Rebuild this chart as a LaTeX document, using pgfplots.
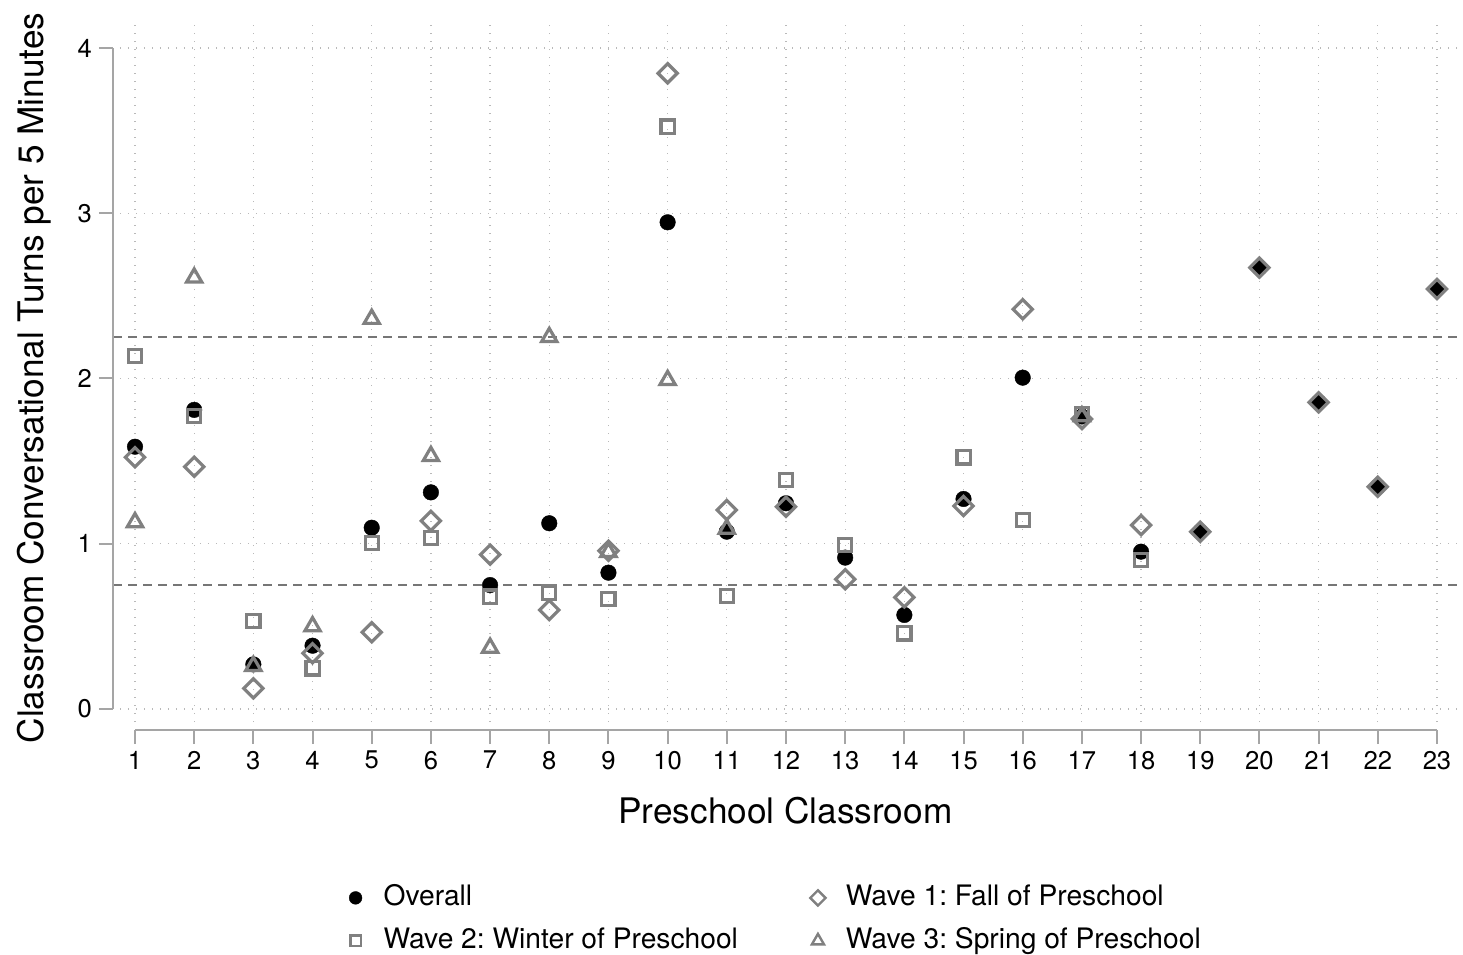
\documentclass[border=0pt]{standalone}
\usepackage{pgfplots}
\pgfplotsset{compat=1.18}
\usepackage{fontspec}
\setmainfont{TeX Gyre Heros}
\frenchspacing
\definecolor{markgray}{RGB}{128,128,128}
\definecolor{axisgray}{RGB}{165,165,165}
\definecolor{gridgray}{RGB}{185,185,185}
\definecolor{refgray}{RGB}{118,118,118}

\begin{document}
\begin{tikzpicture}
\begin{axis}[
  scale only axis,
  width=670pt, height=348.5pt,
  xmin=0.7465, xmax=23.389,
  ymin=-0.0787, ymax=4.139,
  clip=false,
  axis lines=left,
  axis line style={draw=none,-},
  axis x line shift=4pt,
  axis y line shift=3.5pt,
  xtick={1,...,23}, ytick={0,1,2,3,4},
  tick align=outside,
  major tick length=7pt,
  tick style={axisgray, line width=1pt},
  ticklabel style={font=\fontsize{12.8}{14}\selectfont},
  /pgf/number format/assume math mode=true,
  grid=major,
  major grid style={gridgray, line width=0.6pt, dash pattern=on 0.6pt off 3.4pt},
  xlabel={Preschool Classroom},
  ylabel={Classroom Conversational Turns per 5 Minutes},
  label style={font=\fontsize{17.6}{20}\selectfont},
  xlabel style={at={(axis description cs:0.4966,-0.1463)}, anchor=base},
  ylabel style={at={(axis description cs:-0.0572,0.4935)}, anchor=base},
  legend columns=2,
  legend cell align=left,
  legend style={at={(axis description cs:0.4867,-0.2324)}, anchor=north,
    draw=none, fill=none, inner sep=0pt, row sep=8pt,
    font=\fontsize{14.1}{16}\selectfont,
    nodes={inner sep=0pt, text height=10.5pt, text depth=3pt},
    /tikz/column 1/.style={column sep=8pt},
    /tikz/column 2/.style={column sep=34pt},
    /tikz/column 3/.style={column sep=8pt}},
  legend image code/.code={\path[draw=none,fill=none] (-6pt,-3pt) rectangle (6pt,3pt);
    \draw[#1] plot coordinates {(0pt,0pt)};},
]

% reference lines
\addplot[refgray, line width=1.3pt, dash pattern=on 4.5pt off 3pt, forget plot]
  coordinates {(0.63,0.75) (23.389,0.75)};
\addplot[refgray, line width=1.3pt, dash pattern=on 4.5pt off 3pt, forget plot]
  coordinates {(0.63,2.25) (23.389,2.25)};

% Overall
\addplot[only marks, mark=*, black, mark size=3.9pt, line width=0.2pt,
  legend image post style={mark size=3.2pt}]
  coordinates {
  (1,1.587) (2,1.81) (3,0.27) (4,0.383) (5,1.097) (6,1.311) (7,0.75) (8,1.124)
  (9,0.825) (10,2.945) (11,1.073) (12,1.245) (13,0.916) (14,0.569) (15,1.271)
  (16,2.005) (17,1.77) (18,0.952) (19,1.073) (20,2.671) (21,1.856) (22,1.345) (23,2.542)};

% Wave 1: fall
\addplot[only marks, mark=square, markgray, mark size=3.4pt, line width=1.6pt,
  mark options={rotate=45, fill=none},
  legend image post style={mark size=2.7pt, line width=1.2pt}]
  coordinates {
  (1,1.523) (2,1.466) (3,0.125) (4,0.337) (5,0.464) (6,1.138) (7,0.934) (8,0.599)
  (9,0.958) (10,3.847) (11,1.204) (12,1.224) (13,0.785) (14,0.676) (15,1.228)
  (16,2.419) (17,1.755) (18,1.113) (19,1.073) (20,2.671) (21,1.856) (22,1.345) (23,2.542)};

% Wave 2: winter
\addplot[only marks, mark=square, markgray, mark size=3.3pt, line width=1.6pt,
  mark options={fill=none},
  legend image post style={mark size=2.6pt, line width=1.2pt}]
  coordinates {
  (1,2.136) (2,1.773) (3,0.532) (4,0.246) (5,1.006) (6,1.035) (7,0.68) (8,0.704)
  (9,0.664) (10,3.524) (11,0.684) (12,1.386) (13,0.992) (14,0.458) (15,1.523)
  (16,1.144) (17,1.785) (18,0.902)};

% Wave 3: spring
\addplot[only marks, mark=triangle, markgray, mark size=4.4pt, line width=1.6pt,
  mark options={fill=none},
  legend image post style={mark size=3.5pt, line width=1.2pt}]
  coordinates {
  (1,1.13) (2,2.61) (3,0.26) (4,0.50) (5,2.36) (6,1.53) (7,0.37) (8,2.25)
  (9,0.95) (10,1.99) (11,1.09) (17,1.77)};

\legend{Overall, Wave 1: Fall of Preschool, Wave 2: Winter of Preschool, Wave 3: Spring of Preschool}

% axis lines, offset from the plot region
\draw[axisgray, line width=1pt] ([yshift=-4pt]axis cs:1,-0.0787) -- ([yshift=-4pt]axis cs:23,-0.0787);
\draw[axisgray, line width=1pt] ([xshift=-3.5pt]axis cs:0.7465,0) -- ([xshift=-3.5pt]axis cs:0.7465,4);
\end{axis}
\pgfresetboundingbox
\useasboundingbox ([shift={(-60pt,-116pt)}]current axis.south west) rectangle ([shift={(1.5pt,12.5pt)}]current axis.north east);
\end{tikzpicture}
\end{document}
